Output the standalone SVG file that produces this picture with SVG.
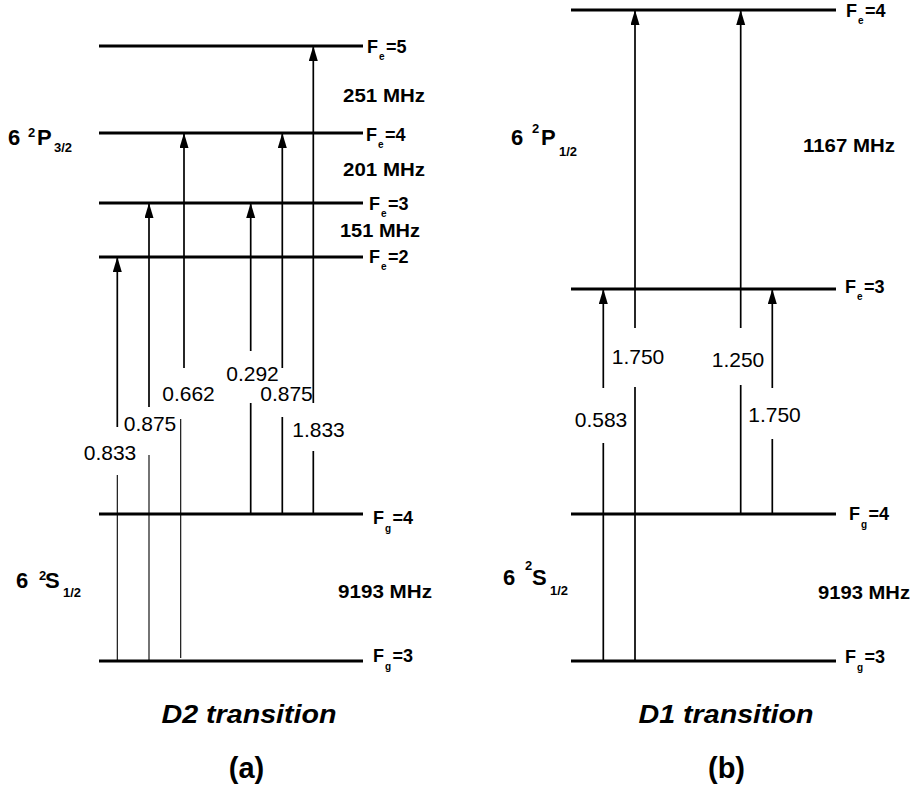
<svg xmlns="http://www.w3.org/2000/svg" width="911" height="791" viewBox="0 0 911 791">
<defs>
<marker id="ah" markerUnits="userSpaceOnUse" markerWidth="16" markerHeight="10" refX="15" refY="4.5" orient="auto">
<path d="M0,0 L15,4.5 L0,9 z" fill="#000"/>
</marker>
<style>
.lvl{stroke:#000;stroke-width:3;fill:none}
.up{stroke:#000;stroke-width:1.7;fill:none;marker-end:url(#ah)}
.lo{stroke:#000;stroke-width:1.7;fill:none}
.thin{stroke:#000;stroke-width:1.1;fill:none}
text{font-family:"Liberation Sans",Arial,sans-serif;fill:#000}
.lab{font-size:18px;font-weight:bold}
.sub{font-size:10px;font-weight:bold}
.num{font-size:21px;text-anchor:middle}
.freq{font-size:19px;font-weight:bold}
.term{font-size:22px;font-weight:bold}
.ts{font-size:13px;font-weight:bold}
.title{font-size:26px;font-weight:bold;font-style:italic;text-anchor:middle}
.pan{font-size:29px;font-weight:bold;text-anchor:middle}
</style>
</defs>
<rect width="911" height="791" fill="#fff"/>

<!-- Left panel levels -->
<g id="L_Fe5"><line class="lvl" x1="99" y1="46" x2="363" y2="46"/>
<text class="lab" x="367" y="53">F<tspan class="sub" dy="7" dx="1">e</tspan><tspan dy="-7" dx="1.5">=5</tspan></text></g>
<g id="L_Fe4"><line class="lvl" x1="99" y1="133" x2="363" y2="133"/>
<text class="lab" x="366" y="141">F<tspan class="sub" dy="7" dx="1">e</tspan><tspan dy="-7" dx="1.5">=4</tspan></text></g>
<g id="L_Fe3"><line class="lvl" x1="99" y1="203" x2="363" y2="203"/>
<text class="lab" x="369" y="210">F<tspan class="sub" dy="7" dx="1">e</tspan><tspan dy="-7" dx="1.5">=3</tspan></text></g>
<g id="L_Fe2"><line class="lvl" x1="99" y1="257" x2="363" y2="257"/>
<text class="lab" x="369" y="263">F<tspan class="sub" dy="7" dx="1">e</tspan><tspan dy="-7" dx="1.5">=2</tspan></text></g>
<g id="L_Fg4"><line class="lvl" x1="99" y1="514" x2="363" y2="514"/>
<text class="lab" x="373" y="524">F<tspan class="sub" dy="8" dx="1">g</tspan><tspan dy="-8" dx="1.5">=4</tspan></text></g>
<g id="L_Fg3"><line class="lvl" x1="99" y1="661" x2="363" y2="661"/>
<text class="lab" x="373" y="662">F<tspan class="sub" dy="8" dx="1">g</tspan><tspan dy="-8" dx="1.5">=3</tspan></text></g>

<g id="L_freq">
<text class="freq" x="343" y="102" textLength="82" lengthAdjust="spacingAndGlyphs">251 MHz</text>
<text class="freq" x="343" y="176" textLength="82" lengthAdjust="spacingAndGlyphs">201 MHz</text>
<text class="freq" x="340" y="237" textLength="80" lengthAdjust="spacingAndGlyphs">151 MHz</text>
<text class="freq" x="338" y="598" textLength="94" lengthAdjust="spacingAndGlyphs">9193 MHz</text>
</g>
<g id="L_terms">
<text class="term" x="8" y="145">6</text><text class="ts" x="28" y="137">2</text><text class="term" x="37" y="145">P</text><text class="ts" x="54" y="152">3/2</text>
<text class="term" x="16" y="588">6</text><text class="ts" x="39" y="580">2</text><text class="term" x="45" y="588">S</text><text class="ts" x="63" y="597">1/2</text>
</g>

<!-- Right panel levels -->
<g id="R_Fe4"><line class="lvl" x1="571" y1="10" x2="836" y2="10"/>
<text class="lab" x="846" y="17">F<tspan class="sub" dy="7" dx="1">e</tspan><tspan dy="-7" dx="1.5">=4</tspan></text></g>
<g id="R_Fe3"><line class="lvl" x1="571" y1="289" x2="836" y2="289"/>
<text class="lab" x="845" y="293">F<tspan class="sub" dy="7" dx="1">e</tspan><tspan dy="-7" dx="1.5">=3</tspan></text></g>
<g id="R_Fg4"><line class="lvl" x1="571" y1="514" x2="836" y2="514"/>
<text class="lab" x="849" y="520">F<tspan class="sub" dy="8" dx="1">g</tspan><tspan dy="-8" dx="1.5">=4</tspan></text></g>
<g id="R_Fg3"><line class="lvl" x1="571" y1="661" x2="836" y2="661"/>
<text class="lab" x="845" y="663">F<tspan class="sub" dy="8" dx="1">g</tspan><tspan dy="-8" dx="1.5">=3</tspan></text></g>

<g id="R_freq">
<text class="freq" x="803" y="152" textLength="92" lengthAdjust="spacingAndGlyphs">1167 MHz</text>
<text class="freq" x="818" y="599" textLength="92" lengthAdjust="spacingAndGlyphs">9193 MHz</text>
</g>
<g id="R_terms">
<text class="term" x="511" y="145">6</text><text class="ts" x="532" y="133">2</text><text class="term" x="541" y="145">P</text><text class="ts" x="559" y="156">1/2</text>
<text class="term" x="503" y="585">6</text><text class="ts" x="525" y="570">2</text><text class="term" x="532" y="585">S</text><text class="ts" x="550" y="595">1/2</text>
</g>

<!-- Connectors -->
<g id="connectors">
<line class="up" x1="117.3" y1="427" x2="117.3" y2="257"/>
<line class="thin" x1="117.3" y1="475" x2="117.3" y2="661"/>
<line class="up" x1="149" y1="407" x2="149" y2="203"/>
<line class="thin" x1="149" y1="455" x2="149" y2="661"/>
<line class="up" x1="184" y1="368" x2="184" y2="133"/>
<line class="thin" x1="180.7" y1="419" x2="180.7" y2="658"/>
<line class="up" x1="250.7" y1="351" x2="250.7" y2="203"/>
<line class="lo" x1="250.7" y1="403" x2="250.7" y2="514"/>
<line class="up" x1="282.3" y1="368" x2="282.3" y2="133"/>
<line class="lo" x1="282.3" y1="417" x2="282.3" y2="514"/>
<line class="up" x1="313.3" y1="403" x2="313.3" y2="46"/>
<line class="lo" x1="313.3" y1="451" x2="313.3" y2="514"/>

<line class="up" x1="603.3" y1="388" x2="603.3" y2="289"/>
<line class="lo" x1="603.3" y1="443" x2="603.3" y2="661"/>
<line class="up" x1="635" y1="328" x2="635" y2="10"/>
<line class="lo" x1="635" y1="387" x2="635" y2="661"/>
<line class="up" x1="740.7" y1="328" x2="740.7" y2="10"/>
<line class="lo" x1="740.7" y1="385" x2="740.7" y2="514"/>
<line class="up" x1="772.3" y1="388" x2="772.3" y2="289"/>
<line class="lo" x1="772.3" y1="439" x2="772.3" y2="514"/>
</g>

<g id="strengths">
<text class="num" x="110" y="460">0.833</text>
<text class="num" x="150" y="431">0.875</text>
<text class="num" x="188.5" y="401">0.662</text>
<text class="num" x="252.5" y="381">0.292</text>
<text class="num" x="286.5" y="401">0.875</text>
<text class="num" x="318.5" y="437">1.833</text>
<text class="num" x="601" y="427">0.583</text>
<text class="num" x="638" y="364">1.750</text>
<text class="num" x="738" y="367">1.250</text>
<text class="num" x="774.5" y="422">1.750</text>
</g>

<g id="captions">
<text class="title" x="249" y="723" textLength="175" lengthAdjust="spacingAndGlyphs">D2 transition</text>
<text class="pan" x="246.5" y="778">(a)</text>
<text class="title" x="726" y="723" textLength="175" lengthAdjust="spacingAndGlyphs">D1 transition</text>
<text class="pan" x="726.5" y="778">(b)</text>
</g>
</svg>
